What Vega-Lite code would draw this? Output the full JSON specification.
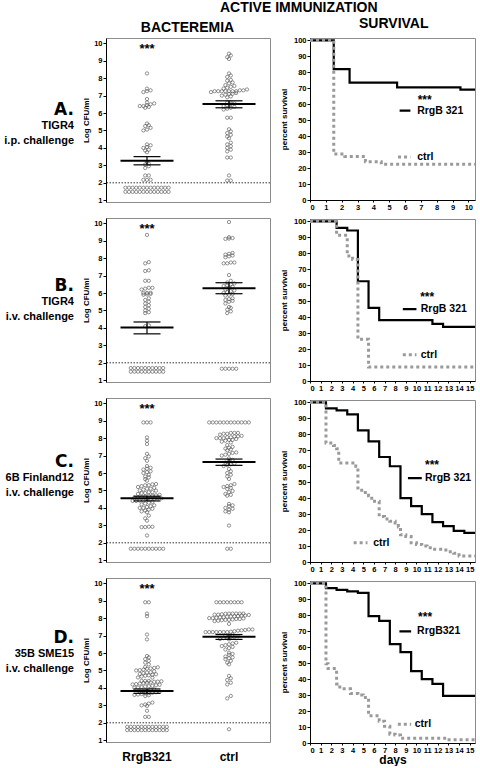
{
 "$schema": "https://vega.github.io/schema/vega-lite/v6.json",
 "padding": {"left": 0, "top": 0, "right": 1, "bottom": 0},
 "title": {"text": "ACTIVE IMMUNIZATION", "anchor": "middle", "dx": 58, "offset": 2},
 "datasets": {
  "labs": [
   {"p": "A", "big": "A.", "small": ["TIGR4", "i.p. challenge"]},
   {"p": "B", "big": "B.", "small": ["TIGR4", "i.v. challenge"]},
   {"p": "C", "big": "C.", "small": ["6B Finland12", "i.v. challenge"]},
   {"p": "D", "big": "D.", "small": ["35B SME15", "i.v. challenge"]}
  ],
  "pts": [
   {"p": "A", "g": "RrgB321", "v": [1.72,1.72,1.72,1.72,1.72,1.72,1.72,1.72,1.72,1.72,1.72,1.72,1.72,1.48,1.48,1.48,1.48,1.48,1.48,1.48,1.48,1.48,1.48,1.48,1.48,1.48,2.17,2.17,2.17,2.42,2.42,2.85,2.95,3.05,3.1,3.2,3.75,3.85,3.9,4.0,4.05,4.15,4.2,5.0,5.05,5.15,5.25,5.3,5.4,6.3,6.35,6.4,6.4,6.45,6.5,6.55,6.6,6.8,7.2,7.25,7.3,7.4,8.27]},
   {"p": "A", "g": "ctrl", "v": [2.13,2.13,2.42,3.45,3.45,3.8,3.9,4.0,4.1,4.2,4.3,4.55,4.65,4.75,4.85,4.95,5.07,5.73,5.73,6.2,6.25,6.3,6.35,6.4,6.45,6.5,6.55,6.6,6.6,6.9,6.95,7.0,7.05,7.1,7.1,7.15,7.2,7.25,7.25,7.25,7.25,7.25,7.25,7.25,7.3,7.3,7.35,7.4,7.45,7.5,7.55,7.6,7.7,7.75,7.85,7.9,8.07,8.15,8.27,9.1,9.2,9.3,9.4]},
   {"p": "B", "g": "RrgB321", "v": [1.7,1.7,1.7,1.7,1.7,1.7,1.7,1.7,1.7,1.7,1.49,1.49,1.49,1.49,1.49,1.49,1.49,1.49,1.49,1.49,4.1,4.15,4.85,4.9,5.0,5.1,5.2,5.3,5.4,5.5,5.6,5.7,5.9,5.92,5.95,6.0,6.0,6.02,6.2,6.25,6.3,6.3,6.7,6.7,7.26,7.3,7.7,7.77,9.33]},
   {"p": "B", "g": "ctrl", "v": [1.66,1.66,1.66,1.66,1.66,4.85,4.95,5.05,5.15,5.2,5.4,5.5,5.55,5.6,5.65,5.7,5.85,5.9,5.95,6.0,6.05,6.1,6.15,6.2,6.3,6.35,6.4,6.45,6.5,6.55,6.6,6.7,7.03,7.7,7.7,7.75,7.75,8.05,8.1,8.15,8.2,8.25,8.3,9.1,9.12,9.15,9.2,10.07]},
   {"p": "C", "g": "RrgB321", "v": [1.66,1.66,1.66,1.66,1.66,1.66,1.66,1.66,1.66,1.66,2.42,2.9,2.9,2.92,2.92,3.27,3.4,3.56,3.75,3.8,3.85,3.9,3.95,4.0,4.0,4.05,4.1,4.15,4.2,4.25,4.3,4.35,4.4,4.4,4.42,4.42,4.5,4.5,4.52,4.55,4.55,4.6,4.6,4.62,4.65,4.7,4.7,4.72,4.75,4.8,4.85,4.85,4.9,4.9,4.99,5.0,5.05,5.1,5.1,5.15,5.2,5.25,5.3,5.3,5.35,5.37,5.56,5.65,5.75,5.8,5.9,6.0,6.05,6.1,6.2,6.25,6.3,6.4,6.7,6.85,6.95,7.1,7.66,7.85,8.04,8.9,8.9,8.9]},
   {"p": "C", "g": "ctrl", "v": [1.66,1.66,2.99,3.75,3.8,3.9,3.95,4.0,4.1,4.15,4.23,4.7,4.75,4.8,4.9,4.97,5.09,5.15,5.2,5.25,5.3,5.37,5.66,5.8,5.9,6.0,6.1,6.23,6.4,6.45,6.5,6.55,6.6,6.7,6.75,6.84,7.0,7.05,7.1,7.15,7.18,7.3,7.35,7.4,7.45,7.5,7.6,7.75,7.8,7.85,7.9,7.9,7.95,8.0,8.0,8.0,8.05,8.05,8.1,8.1,8.13,8.2,8.25,8.25,8.3,8.3,8.3,8.9,8.9,8.9,8.9,8.9,8.9,8.9,8.9,8.9,8.9,8.9,8.9]},
   {"p": "D", "g": "RrgB321", "v": [1.77,1.77,1.77,1.77,1.77,1.77,1.77,1.77,1.77,1.77,1.77,1.77,1.58,1.58,1.58,1.58,1.58,1.58,1.58,1.58,1.58,1.58,1.58,1.58,2.34,2.34,2.69,2.97,3.0,3.05,3.1,3.16,3.54,3.58,3.6,3.62,3.65,3.68,3.7,3.72,3.75,3.78,3.8,3.82,3.85,3.9,3.92,4.0,4.02,4.05,4.08,4.1,4.12,4.15,4.18,4.2,4.22,4.25,4.28,4.3,4.32,4.35,4.36,4.38,4.4,4.4,4.4,4.59,4.6,4.65,4.7,4.72,4.75,4.78,4.8,4.85,4.88,4.9,4.95,5.0,5.02,5.05,5.1,5.12,5.15,5.18,5.2,5.35,5.45,5.55,5.65,5.75,5.83,6.78,7.06,8.11,8.26,8.91,8.91]},
   {"p": "D", "g": "ctrl", "v": [1.63,3.4,3.54,4.2,4.3,4.45,4.55,4.69,5.35,5.45,5.55,5.65,5.7,5.75,5.8,5.9,5.95,6.02,6.2,6.28,6.35,6.4,6.45,6.5,6.55,6.59,6.78,6.8,6.85,6.88,6.9,6.92,6.95,7.0,7.02,7.06,7.2,7.2,7.2,7.2,7.2,7.2,7.2,7.22,7.25,7.28,7.3,7.32,7.35,7.35,7.67,7.83,7.85,7.88,7.9,7.9,7.92,7.95,7.95,7.98,8.0,8.0,8.02,8.05,8.05,8.08,8.1,8.1,8.12,8.15,8.15,8.18,8.2,8.2,8.22,8.25,8.26,8.26,8.26,8.26,8.26,8.91,8.91,8.91,8.91,8.91,8.91,8.91,8.91]}
  ],
  "stats": [
   {"p": "A", "g": "RrgB321", "m": 3.27, "lo": 3.03, "hi": 3.5},
   {"p": "A", "g": "ctrl", "m": 6.51, "lo": 6.3, "hi": 6.7},
   {"p": "B", "g": "RrgB321", "m": 4.02, "lo": 3.66, "hi": 4.34},
   {"p": "B", "g": "ctrl", "m": 6.27, "lo": 5.96, "hi": 6.59},
   {"p": "C", "g": "RrgB321", "m": 4.55, "lo": 4.4, "hi": 4.67},
   {"p": "C", "g": "ctrl", "m": 6.63, "lo": 6.44, "hi": 6.8},
   {"p": "D", "g": "RrgB321", "m": 3.83, "lo": 3.69, "hi": 3.94},
   {"p": "D", "g": "ctrl", "m": 6.93, "lo": 6.78, "hi": 7.06}
  ],
  "surv": [
   {"p":"A","g":"RrgB","d":0,"s":100},{"p":"A","g":"RrgB","d":1.5,"s":82},{"p":"A","g":"RrgB","d":2.5,"s":73.5},{"p":"A","g":"RrgB","d":5.5,"s":70.6},{"p":"A","g":"RrgB","d":9.5,"s":69.2},{"p":"A","g":"RrgB","d":10.42,"s":69.2},
   {"p":"A","g":"ctrl","d":0,"s":100},{"p":"A","g":"ctrl","d":1.5,"s":28.8},{"p":"A","g":"ctrl","d":2.2,"s":27.2},{"p":"A","g":"ctrl","d":3.5,"s":24},{"p":"A","g":"ctrl","d":4.5,"s":22.4},{"p":"A","g":"ctrl","d":10.42,"s":22.4},
   {"p":"B","g":"RrgB","d":0,"s":100},{"p":"B","g":"RrgB","d":2.5,"s":96},{"p":"B","g":"RrgB","d":3.5,"s":94.3},{"p":"B","g":"RrgB","d":4.5,"s":62.5},{"p":"B","g":"RrgB","d":5.5,"s":45.8},{"p":"B","g":"RrgB","d":6.5,"s":38.1},{"p":"B","g":"RrgB","d":11.5,"s":35.8},{"p":"B","g":"RrgB","d":12.5,"s":33.9},{"p":"B","g":"RrgB","d":15.5,"s":33.9},
   {"p":"B","g":"ctrl","d":0,"s":100},{"p":"B","g":"ctrl","d":2.5,"s":91.3},{"p":"B","g":"ctrl","d":3.5,"s":78.3},{"p":"B","g":"ctrl","d":4,"s":76.1},{"p":"B","g":"ctrl","d":4.5,"s":26.1},{"p":"B","g":"ctrl","d":5.5,"s":8.7},{"p":"B","g":"ctrl","d":15.5,"s":8.7},
   {"p":"C","g":"RrgB","d":0,"s":100},{"p":"C","g":"RrgB","d":1.5,"s":96.2},{"p":"C","g":"RrgB","d":2.5,"s":95},{"p":"C","g":"RrgB","d":3.5,"s":92.5},{"p":"C","g":"RrgB","d":4.5,"s":82.5},{"p":"C","g":"RrgB","d":5.5,"s":75.6},{"p":"C","g":"RrgB","d":6.5,"s":65.8},{"p":"C","g":"RrgB","d":7.5,"s":60},{"p":"C","g":"RrgB","d":8.5,"s":40},{"p":"C","g":"RrgB","d":9.5,"s":35},{"p":"C","g":"RrgB","d":10.5,"s":30},{"p":"C","g":"RrgB","d":11.5,"s":25},{"p":"C","g":"RrgB","d":12.5,"s":22.5},{"p":"C","g":"RrgB","d":13.5,"s":19.5},{"p":"C","g":"RrgB","d":14.5,"s":18.3},{"p":"C","g":"RrgB","d":15.5,"s":18.3},
   {"p":"C","g":"ctrl","d":0,"s":100},{"p":"C","g":"ctrl","d":1.5,"s":74.5},{"p":"C","g":"ctrl","d":2.2,"s":73},{"p":"C","g":"ctrl","d":2.5,"s":71},{"p":"C","g":"ctrl","d":2.7,"s":62},{"p":"C","g":"ctrl","d":4.3,"s":60},{"p":"C","g":"ctrl","d":4.5,"s":45},{"p":"C","g":"ctrl","d":5,"s":43.5},{"p":"C","g":"ctrl","d":5.5,"s":41.5},{"p":"C","g":"ctrl","d":5.8,"s":38},{"p":"C","g":"ctrl","d":6.5,"s":28.5},{"p":"C","g":"ctrl","d":7,"s":27},{"p":"C","g":"ctrl","d":7.5,"s":25.5},{"p":"C","g":"ctrl","d":8,"s":24.5},{"p":"C","g":"ctrl","d":8.3,"s":22},{"p":"C","g":"ctrl","d":8.5,"s":17},{"p":"C","g":"ctrl","d":9,"s":16},{"p":"C","g":"ctrl","d":9.5,"s":12},{"p":"C","g":"ctrl","d":10,"s":11},{"p":"C","g":"ctrl","d":10.5,"s":10},{"p":"C","g":"ctrl","d":11,"s":9},{"p":"C","g":"ctrl","d":11.5,"s":8},{"p":"C","g":"ctrl","d":12.5,"s":7.5},{"p":"C","g":"ctrl","d":13,"s":6.5},{"p":"C","g":"ctrl","d":13.5,"s":5.5},{"p":"C","g":"ctrl","d":14,"s":3.7},{"p":"C","g":"ctrl","d":15.5,"s":3.7},
   {"p":"D","g":"RrgB","d":0,"s":100},{"p":"D","g":"RrgB","d":1.5,"s":97},{"p":"D","g":"RrgB","d":2.5,"s":96},{"p":"D","g":"RrgB","d":3.5,"s":95},{"p":"D","g":"RrgB","d":4.5,"s":94},{"p":"D","g":"RrgB","d":5.5,"s":79.5},{"p":"D","g":"RrgB","d":6.5,"s":76.5},{"p":"D","g":"RrgB","d":7.5,"s":62},{"p":"D","g":"RrgB","d":8.5,"s":57},{"p":"D","g":"RrgB","d":9.5,"s":45},{"p":"D","g":"RrgB","d":10.5,"s":40},{"p":"D","g":"RrgB","d":11.5,"s":37},{"p":"D","g":"RrgB","d":12.5,"s":29.5},{"p":"D","g":"RrgB","d":15.5,"s":29.5},
   {"p":"D","g":"ctrl","d":0,"s":100},{"p":"D","g":"ctrl","d":1.5,"s":49.6},{"p":"D","g":"ctrl","d":1.7,"s":46.6},{"p":"D","g":"ctrl","d":2.5,"s":37},{"p":"D","g":"ctrl","d":2.8,"s":34},{"p":"D","g":"ctrl","d":3.8,"s":31},{"p":"D","g":"ctrl","d":4.5,"s":30},{"p":"D","g":"ctrl","d":5,"s":28.5},{"p":"D","g":"ctrl","d":5.5,"s":17},{"p":"D","g":"ctrl","d":6.5,"s":13.7},{"p":"D","g":"ctrl","d":7,"s":10.5},{"p":"D","g":"ctrl","d":7.5,"s":5.5},{"p":"D","g":"ctrl","d":8,"s":5},{"p":"D","g":"ctrl","d":8.5,"s":3},{"p":"D","g":"ctrl","d":12.8,"s":2},{"p":"D","g":"ctrl","d":15.5,"s":2}
  ],
  "notes": [
   {"p":"A","k":"star","t":"***","d":6.8,"s":64},{"p":"A","k":"lab","t":"RrgB 321","d":6.77,"s":56},{"p":"A","k":"lab","t":"ctrl","d":6.77,"s":27},
   {"p":"B","k":"star","t":"***","d":10.35,"s":54},{"p":"B","k":"lab","t":"RrgB 321","d":10.4,"s":45},{"p":"B","k":"lab","t":"ctrl","d":10.4,"s":16.5},
   {"p":"C","k":"star","t":"***","d":10.8,"s":62},{"p":"C","k":"lab","t":"RrgB 321","d":10.8,"s":52.6},{"p":"C","k":"lab","t":"ctrl","d":5.93,"s":12},
   {"p":"D","k":"star","t":"***","d":10.15,"s":80},{"p":"D","k":"lab","t":"RrgB321","d":10.06,"s":70},{"p":"D","k":"lab","t":"ctrl","d":9.84,"s":11.8}
  ],
  "keys": [
   {"p":"A","g":"RrgB","d1":5.66,"d2":6.34,"s":56},{"p":"A","g":"ctrl","d1":5.56,"d2":6.34,"s":27},
   {"p":"B","g":"RrgB","d1":8.72,"d2":10.0,"s":45},{"p":"B","g":"ctrl","d1":8.72,"d2":10.0,"s":16.5},
   {"p":"C","g":"RrgB","d1":9.2,"d2":10.5,"s":52.6},{"p":"C","g":"ctrl","d1":4.1,"d2":5.4,"s":12},
   {"p":"D","g":"RrgB","d1":8.4,"d2":9.5,"s":70},{"p":"D","g":"ctrl","d1":8.25,"d2":9.5,"s":11.8}
  ]
 },
 "spacing": 8,
 "hconcat": [
  {
   "title": {"text": " "},
   "spacing": 12,
   "vconcat": [
    {"width": 74, "height": 164, "view": {"stroke": null}, "data": {"name": "labs"}, "transform": [{"filter": "datum.p=='A'"}],
     "layer": [
      {"mark": {"type": "text", "align": "right", "baseline": "alphabetic", "font": "DejaVu Sans", "fontSize": 17, "fontWeight": "bold", "dy": -5}, "encoding": {"x": {"datum": 1, "type": "quantitative", "scale": {"domain": [0, 1]}, "axis": null}, "text": {"field": "big"}}},
      {"mark": {"type": "text", "align": "right", "baseline": "alphabetic", "fontSize": 11, "fontWeight": "bold", "dy": 9, "lineHeight": 15}, "encoding": {"x": {"datum": 1, "type": "quantitative", "scale": {"domain": [0, 1]}, "axis": null}, "text": {"field": "small"}}}
     ]},
    {"width": 74, "height": 164, "view": {"stroke": null}, "data": {"name": "labs"}, "transform": [{"filter": "datum.p=='B'"}],
     "layer": [
      {"mark": {"type": "text", "align": "right", "baseline": "alphabetic", "font": "DejaVu Sans", "fontSize": 17, "fontWeight": "bold", "dy": -5}, "encoding": {"x": {"datum": 1, "type": "quantitative", "scale": {"domain": [0, 1]}, "axis": null}, "text": {"field": "big"}}},
      {"mark": {"type": "text", "align": "right", "baseline": "alphabetic", "fontSize": 11, "fontWeight": "bold", "dy": 9, "lineHeight": 15}, "encoding": {"x": {"datum": 1, "type": "quantitative", "scale": {"domain": [0, 1]}, "axis": null}, "text": {"field": "small"}}}
     ]},
    {"width": 74, "height": 164, "view": {"stroke": null}, "data": {"name": "labs"}, "transform": [{"filter": "datum.p=='C'"}],
     "layer": [
      {"mark": {"type": "text", "align": "right", "baseline": "alphabetic", "font": "DejaVu Sans", "fontSize": 17, "fontWeight": "bold", "dy": -5}, "encoding": {"x": {"datum": 1, "type": "quantitative", "scale": {"domain": [0, 1]}, "axis": null}, "text": {"field": "big"}}},
      {"mark": {"type": "text", "align": "right", "baseline": "alphabetic", "fontSize": 11, "fontWeight": "bold", "dy": 9, "lineHeight": 15}, "encoding": {"x": {"datum": 1, "type": "quantitative", "scale": {"domain": [0, 1]}, "axis": null}, "text": {"field": "small"}}}
     ]},
    {"width": 74, "height": 164, "view": {"stroke": null}, "data": {"name": "labs"}, "transform": [{"filter": "datum.p=='D'"}],
     "layer": [
      {"mark": {"type": "text", "align": "right", "baseline": "alphabetic", "font": "DejaVu Sans", "fontSize": 17, "fontWeight": "bold", "dy": -5}, "encoding": {"x": {"datum": 1, "type": "quantitative", "scale": {"domain": [0, 1]}, "axis": null}, "text": {"field": "big"}}},
      {"mark": {"type": "text", "align": "right", "baseline": "alphabetic", "fontSize": 11, "fontWeight": "bold", "dy": 9, "lineHeight": 15}, "encoding": {"x": {"datum": 1, "type": "quantitative", "scale": {"domain": [0, 1]}, "axis": null}, "text": {"field": "small"}}}
     ]}
   ]
  },
  {
   "title": {"text": "BACTEREMIA", "anchor": "middle", "dx": 11},
   "spacing": 12,
   "vconcat": [
    {"width": 164, "height": 164, "layer": [
     {"data": {"name": "pts"}, "transform": [{"filter": "datum.p=='A'"}, {"flatten": ["v"]}, {"calculate": "floor(datum.v*5+0.000001)", "as": "b"}, {"window": [{"op": "row_number", "as": "r"}], "groupby": ["g", "b"]}, {"joinaggregate": [{"op": "count", "as": "n"}], "groupby": ["g", "b"]}, {"calculate": "(datum.r-(datum.n+1)/2)*3.6", "as": "off"}],
      "mark": {"type": "point", "shape": "circle", "size": 11, "filled": false, "stroke": "#4d4d4d", "strokeWidth": 0.6, "opacity": 1},
      "encoding": {"x": {"field": "g", "type": "nominal", "scale": {"type": "band", "domain": ["RrgB321", "ctrl"], "paddingInner": 0, "paddingOuter": 0}, "axis": null}, "xOffset": {"field": "off", "type": "quantitative", "scale": {"domain": [-41, 41]}}, "y": {"field": "v", "type": "quantitative", "scale": {"domain": [0.9, 10.3], "nice": false, "zero": false}, "axis": {"values": [1,2,3,4,5,6,7,8,9,10], "tickCount": 40, "format": "d", "title": "Log CFU/ml"}}}},
     {"data": {"values": [{"lim": 2}]}, "mark": {"type": "rule", "strokeDash": [1.5, 1.5], "color": "#000", "strokeWidth": 0.8}, "encoding": {"y": {"field": "lim", "type": "quantitative"}}},
     {"data": {"name": "stats"}, "transform": [{"filter": "datum.p=='A'"}], "mark": {"type": "tick", "size": 53, "thickness": 2, "color": "#000", "opacity": 1}, "encoding": {"x": {"field": "g", "type": "nominal", "axis": null}, "y": {"field": "m", "type": "quantitative"}}},
     {"data": {"name": "stats"}, "transform": [{"filter": "datum.p=='A'"}], "mark": {"type": "tick", "size": 27, "thickness": 1.2, "color": "#000", "opacity": 1}, "encoding": {"x": {"field": "g", "type": "nominal", "axis": null}, "y": {"field": "lo", "type": "quantitative"}}},
     {"data": {"name": "stats"}, "transform": [{"filter": "datum.p=='A'"}], "mark": {"type": "tick", "size": 27, "thickness": 1.2, "color": "#000", "opacity": 1}, "encoding": {"x": {"field": "g", "type": "nominal", "axis": null}, "y": {"field": "hi", "type": "quantitative"}}},
     {"data": {"name": "stats"}, "transform": [{"filter": "datum.p=='A'"}], "mark": {"type": "rule", "strokeWidth": 1.2, "color": "#000"}, "encoding": {"x": {"field": "g", "type": "nominal", "axis": null}, "y": {"field": "lo", "type": "quantitative"}, "y2": {"field": "hi"}}},
     {"data": {"name": "stats"}, "transform": [{"filter": "datum.p=='A' && datum.g=='RrgB321'"}], "mark": {"type": "text", "text": "***", "fontSize": 13, "fontWeight": "bold", "baseline": "alphabetic", "dy": 7}, "encoding": {"x": {"field": "g", "type": "nominal", "axis": null}, "y": {"datum": 9.83, "type": "quantitative"}}}
    ]},
    {"width": 164, "height": 164, "layer": [
     {"data": {"name": "pts"}, "transform": [{"filter": "datum.p=='B'"}, {"flatten": ["v"]}, {"calculate": "floor(datum.v*5+0.000001)", "as": "b"}, {"window": [{"op": "row_number", "as": "r"}], "groupby": ["g", "b"]}, {"joinaggregate": [{"op": "count", "as": "n"}], "groupby": ["g", "b"]}, {"calculate": "(datum.r-(datum.n+1)/2)*3.6", "as": "off"}],
      "mark": {"type": "point", "shape": "circle", "size": 11, "filled": false, "stroke": "#4d4d4d", "strokeWidth": 0.6, "opacity": 1},
      "encoding": {"x": {"field": "g", "type": "nominal", "scale": {"type": "band", "domain": ["RrgB321", "ctrl"], "paddingInner": 0, "paddingOuter": 0}, "axis": null}, "xOffset": {"field": "off", "type": "quantitative", "scale": {"domain": [-41, 41]}}, "y": {"field": "v", "type": "quantitative", "scale": {"domain": [0.9, 10.3], "nice": false, "zero": false}, "axis": {"values": [1,2,3,4,5,6,7,8,9,10], "tickCount": 40, "format": "d", "title": "Log CFU/ml"}}}},
     {"data": {"values": [{"lim": 2}]}, "mark": {"type": "rule", "strokeDash": [1.5, 1.5], "color": "#000", "strokeWidth": 0.8}, "encoding": {"y": {"field": "lim", "type": "quantitative"}}},
     {"data": {"name": "stats"}, "transform": [{"filter": "datum.p=='B'"}], "mark": {"type": "tick", "size": 53, "thickness": 2, "color": "#000", "opacity": 1}, "encoding": {"x": {"field": "g", "type": "nominal", "axis": null}, "y": {"field": "m", "type": "quantitative"}}},
     {"data": {"name": "stats"}, "transform": [{"filter": "datum.p=='B'"}], "mark": {"type": "tick", "size": 27, "thickness": 1.2, "color": "#000", "opacity": 1}, "encoding": {"x": {"field": "g", "type": "nominal", "axis": null}, "y": {"field": "lo", "type": "quantitative"}}},
     {"data": {"name": "stats"}, "transform": [{"filter": "datum.p=='B'"}], "mark": {"type": "tick", "size": 27, "thickness": 1.2, "color": "#000", "opacity": 1}, "encoding": {"x": {"field": "g", "type": "nominal", "axis": null}, "y": {"field": "hi", "type": "quantitative"}}},
     {"data": {"name": "stats"}, "transform": [{"filter": "datum.p=='B'"}], "mark": {"type": "rule", "strokeWidth": 1.2, "color": "#000"}, "encoding": {"x": {"field": "g", "type": "nominal", "axis": null}, "y": {"field": "lo", "type": "quantitative"}, "y2": {"field": "hi"}}},
     {"data": {"name": "stats"}, "transform": [{"filter": "datum.p=='B' && datum.g=='RrgB321'"}], "mark": {"type": "text", "text": "***", "fontSize": 13, "fontWeight": "bold", "baseline": "alphabetic", "dy": 7}, "encoding": {"x": {"field": "g", "type": "nominal", "axis": null}, "y": {"datum": 9.83, "type": "quantitative"}}}
    ]},
    {"width": 164, "height": 164, "layer": [
     {"data": {"name": "pts"}, "transform": [{"filter": "datum.p=='C'"}, {"flatten": ["v"]}, {"calculate": "floor(datum.v*5+0.000001)", "as": "b"}, {"window": [{"op": "row_number", "as": "r"}], "groupby": ["g", "b"]}, {"joinaggregate": [{"op": "count", "as": "n"}], "groupby": ["g", "b"]}, {"calculate": "(datum.r-(datum.n+1)/2)*3.6", "as": "off"}],
      "mark": {"type": "point", "shape": "circle", "size": 11, "filled": false, "stroke": "#4d4d4d", "strokeWidth": 0.6, "opacity": 1},
      "encoding": {"x": {"field": "g", "type": "nominal", "scale": {"type": "band", "domain": ["RrgB321", "ctrl"], "paddingInner": 0, "paddingOuter": 0}, "axis": null}, "xOffset": {"field": "off", "type": "quantitative", "scale": {"domain": [-41, 41]}}, "y": {"field": "v", "type": "quantitative", "scale": {"domain": [0.9, 10.3], "nice": false, "zero": false}, "axis": {"values": [1,2,3,4,5,6,7,8,9,10], "tickCount": 40, "format": "d", "title": "Log CFU/ml"}}}},
     {"data": {"values": [{"lim": 2}]}, "mark": {"type": "rule", "strokeDash": [1.5, 1.5], "color": "#000", "strokeWidth": 0.8}, "encoding": {"y": {"field": "lim", "type": "quantitative"}}},
     {"data": {"name": "stats"}, "transform": [{"filter": "datum.p=='C'"}], "mark": {"type": "tick", "size": 53, "thickness": 2, "color": "#000", "opacity": 1}, "encoding": {"x": {"field": "g", "type": "nominal", "axis": null}, "y": {"field": "m", "type": "quantitative"}}},
     {"data": {"name": "stats"}, "transform": [{"filter": "datum.p=='C'"}], "mark": {"type": "tick", "size": 27, "thickness": 1.2, "color": "#000", "opacity": 1}, "encoding": {"x": {"field": "g", "type": "nominal", "axis": null}, "y": {"field": "lo", "type": "quantitative"}}},
     {"data": {"name": "stats"}, "transform": [{"filter": "datum.p=='C'"}], "mark": {"type": "tick", "size": 27, "thickness": 1.2, "color": "#000", "opacity": 1}, "encoding": {"x": {"field": "g", "type": "nominal", "axis": null}, "y": {"field": "hi", "type": "quantitative"}}},
     {"data": {"name": "stats"}, "transform": [{"filter": "datum.p=='C'"}], "mark": {"type": "rule", "strokeWidth": 1.2, "color": "#000"}, "encoding": {"x": {"field": "g", "type": "nominal", "axis": null}, "y": {"field": "lo", "type": "quantitative"}, "y2": {"field": "hi"}}},
     {"data": {"name": "stats"}, "transform": [{"filter": "datum.p=='C' && datum.g=='RrgB321'"}], "mark": {"type": "text", "text": "***", "fontSize": 13, "fontWeight": "bold", "baseline": "alphabetic", "dy": 7}, "encoding": {"x": {"field": "g", "type": "nominal", "axis": null}, "y": {"datum": 9.83, "type": "quantitative"}}}
    ]},
    {"width": 164, "height": 164, "layer": [
     {"data": {"name": "pts"}, "transform": [{"filter": "datum.p=='D'"}, {"flatten": ["v"]}, {"calculate": "floor(datum.v*5+0.000001)", "as": "b"}, {"window": [{"op": "row_number", "as": "r"}], "groupby": ["g", "b"]}, {"joinaggregate": [{"op": "count", "as": "n"}], "groupby": ["g", "b"]}, {"calculate": "(datum.r-(datum.n+1)/2)*3.6", "as": "off"}],
      "mark": {"type": "point", "shape": "circle", "size": 11, "filled": false, "stroke": "#4d4d4d", "strokeWidth": 0.6, "opacity": 1},
      "encoding": {"x": {"field": "g", "type": "nominal", "scale": {"type": "band", "domain": ["RrgB321", "ctrl"], "paddingInner": 0, "paddingOuter": 0}, "axis": {"title": null, "labelAngle": 0, "ticks": false, "domain": false, "labelFontSize": 12, "labelPadding": 9}}, "xOffset": {"field": "off", "type": "quantitative", "scale": {"domain": [-41, 41]}}, "y": {"field": "v", "type": "quantitative", "scale": {"domain": [0.9, 10.3], "nice": false, "zero": false}, "axis": {"values": [1,2,3,4,5,6,7,8,9,10], "tickCount": 40, "format": "d", "title": "Log CFU/ml"}}}},
     {"data": {"values": [{"lim": 2}]}, "mark": {"type": "rule", "strokeDash": [1.5, 1.5], "color": "#000", "strokeWidth": 0.8}, "encoding": {"y": {"field": "lim", "type": "quantitative"}}},
     {"data": {"name": "stats"}, "transform": [{"filter": "datum.p=='D'"}], "mark": {"type": "tick", "size": 53, "thickness": 2, "color": "#000", "opacity": 1}, "encoding": {"x": {"field": "g", "type": "nominal"}, "y": {"field": "m", "type": "quantitative"}}},
     {"data": {"name": "stats"}, "transform": [{"filter": "datum.p=='D'"}], "mark": {"type": "tick", "size": 27, "thickness": 1.2, "color": "#000", "opacity": 1}, "encoding": {"x": {"field": "g", "type": "nominal"}, "y": {"field": "lo", "type": "quantitative"}}},
     {"data": {"name": "stats"}, "transform": [{"filter": "datum.p=='D'"}], "mark": {"type": "tick", "size": 27, "thickness": 1.2, "color": "#000", "opacity": 1}, "encoding": {"x": {"field": "g", "type": "nominal"}, "y": {"field": "hi", "type": "quantitative"}}},
     {"data": {"name": "stats"}, "transform": [{"filter": "datum.p=='D'"}], "mark": {"type": "rule", "strokeWidth": 1.2, "color": "#000"}, "encoding": {"x": {"field": "g", "type": "nominal"}, "y": {"field": "lo", "type": "quantitative"}, "y2": {"field": "hi"}}},
     {"data": {"name": "stats"}, "transform": [{"filter": "datum.p=='D' && datum.g=='RrgB321'"}], "mark": {"type": "text", "text": "***", "fontSize": 13, "fontWeight": "bold", "baseline": "alphabetic", "dy": 7}, "encoding": {"x": {"field": "g", "type": "nominal"}, "y": {"datum": 9.83, "type": "quantitative"}}}
    ]}
   ]
  },
  {
   "title": {"text": "SURVIVAL", "anchor": "middle", "dx": 13},
   "spacing": 3,
   "vconcat": [
    {"width": 165, "height": 162, "layer": [
     {"data": {"name": "surv"}, "transform": [{"filter": "datum.p=='A'"}], "mark": {"type": "line", "interpolate": "step-after"},
      "encoding": {"x": {"field": "d", "type": "quantitative", "scale": {"domain": [0, 10.42], "nice": false}, "axis": {"values": [0,1,2,3,4,5,6,7,8,9,10], "tickCount": 40, "format": "d", "title": null}},
       "y": {"field": "s", "type": "quantitative", "scale": {"domain": [0, 101.5], "nice": false}, "axis": {"values": [0,10,20,30,40,50,60,70,80,90,100], "tickCount": 40, "format": "d", "titlePadding": 5, "title": "percent survival"}},
       "color": {"field": "g", "type": "nominal", "scale": {"domain": ["RrgB", "ctrl"], "range": ["#000000", "#9a9a9a"]}, "legend": null},
       "strokeDash": {"field": "g", "type": "nominal", "scale": {"domain": ["RrgB", "ctrl"], "range": [[1, 0], [3, 3]]}, "legend": null},
       "strokeWidth": {"field": "g", "type": "nominal", "scale": {"domain": ["RrgB", "ctrl"], "range": [2.2, 3]}, "legend": null}}},
     {"data": {"name": "keys"}, "transform": [{"filter": "datum.p=='A'"}], "mark": {"type": "rule"},
      "encoding": {"x": {"field": "d1", "type": "quantitative"}, "x2": {"field": "d2"}, "y": {"field": "s", "type": "quantitative"},
       "color": {"field": "g", "type": "nominal", "legend": null}, "strokeDash": {"field": "g", "type": "nominal", "legend": null}, "strokeWidth": {"field": "g", "type": "nominal", "legend": null}}},
     {"data": {"name": "notes"}, "transform": [{"filter": "datum.p=='A' && datum.k=='lab'"}], "mark": {"type": "text", "align": "left", "baseline": "middle", "fontSize": 10.5, "fontWeight": "bold"},
      "encoding": {"x": {"field": "d", "type": "quantitative"}, "y": {"field": "s", "type": "quantitative"}, "text": {"field": "t"}}},
     {"data": {"name": "notes"}, "transform": [{"filter": "datum.p=='A' && datum.k=='star'"}], "mark": {"type": "text", "align": "left", "baseline": "alphabetic", "dy": 6, "fontSize": 12, "fontWeight": "bold"},
      "encoding": {"x": {"field": "d", "type": "quantitative"}, "y": {"field": "s", "type": "quantitative"}, "text": {"field": "t"}}}
    ]},
    {"width": 165, "height": 162, "layer": [
     {"data": {"name": "surv"}, "transform": [{"filter": "datum.p=='B'"}], "mark": {"type": "line", "interpolate": "step-after"},
      "encoding": {"x": {"field": "d", "type": "quantitative", "scale": {"domain": [0, 15.5], "nice": false}, "axis": {"values": [0,1,2,3,4,5,6,7,8,9,10,11,12,13,14,15], "tickCount": 40, "format": "d", "title": null}},
       "y": {"field": "s", "type": "quantitative", "scale": {"domain": [0, 101.5], "nice": false}, "axis": {"values": [0,10,20,30,40,50,60,70,80,90,100], "tickCount": 40, "format": "d", "titlePadding": 5, "title": "percent survival"}},
       "color": {"field": "g", "type": "nominal", "scale": {"domain": ["RrgB", "ctrl"], "range": ["#000000", "#9a9a9a"]}, "legend": null},
       "strokeDash": {"field": "g", "type": "nominal", "scale": {"domain": ["RrgB", "ctrl"], "range": [[1, 0], [3, 3]]}, "legend": null},
       "strokeWidth": {"field": "g", "type": "nominal", "scale": {"domain": ["RrgB", "ctrl"], "range": [2.2, 3]}, "legend": null}}},
     {"data": {"name": "keys"}, "transform": [{"filter": "datum.p=='B'"}], "mark": {"type": "rule"},
      "encoding": {"x": {"field": "d1", "type": "quantitative"}, "x2": {"field": "d2"}, "y": {"field": "s", "type": "quantitative"},
       "color": {"field": "g", "type": "nominal", "legend": null}, "strokeDash": {"field": "g", "type": "nominal", "legend": null}, "strokeWidth": {"field": "g", "type": "nominal", "legend": null}}},
     {"data": {"name": "notes"}, "transform": [{"filter": "datum.p=='B' && datum.k=='lab'"}], "mark": {"type": "text", "align": "left", "baseline": "middle", "fontSize": 10.5, "fontWeight": "bold"},
      "encoding": {"x": {"field": "d", "type": "quantitative"}, "y": {"field": "s", "type": "quantitative"}, "text": {"field": "t"}}},
     {"data": {"name": "notes"}, "transform": [{"filter": "datum.p=='B' && datum.k=='star'"}], "mark": {"type": "text", "align": "left", "baseline": "alphabetic", "dy": 6, "fontSize": 12, "fontWeight": "bold"},
      "encoding": {"x": {"field": "d", "type": "quantitative"}, "y": {"field": "s", "type": "quantitative"}, "text": {"field": "t"}}}
    ]},
    {"width": 165, "height": 162, "layer": [
     {"data": {"name": "surv"}, "transform": [{"filter": "datum.p=='C'"}], "mark": {"type": "line", "interpolate": "step-after"},
      "encoding": {"x": {"field": "d", "type": "quantitative", "scale": {"domain": [0, 15.5], "nice": false}, "axis": {"values": [0,1,2,3,4,5,6,7,8,9,10,11,12,13,14,15], "tickCount": 40, "format": "d", "title": null}},
       "y": {"field": "s", "type": "quantitative", "scale": {"domain": [0, 101.5], "nice": false}, "axis": {"values": [0,10,20,30,40,50,60,70,80,90,100], "tickCount": 40, "format": "d", "titlePadding": 5, "title": "percent survival"}},
       "color": {"field": "g", "type": "nominal", "scale": {"domain": ["RrgB", "ctrl"], "range": ["#000000", "#9a9a9a"]}, "legend": null},
       "strokeDash": {"field": "g", "type": "nominal", "scale": {"domain": ["RrgB", "ctrl"], "range": [[1, 0], [3, 3]]}, "legend": null},
       "strokeWidth": {"field": "g", "type": "nominal", "scale": {"domain": ["RrgB", "ctrl"], "range": [2.2, 3]}, "legend": null}}},
     {"data": {"name": "keys"}, "transform": [{"filter": "datum.p=='C'"}], "mark": {"type": "rule"},
      "encoding": {"x": {"field": "d1", "type": "quantitative"}, "x2": {"field": "d2"}, "y": {"field": "s", "type": "quantitative"},
       "color": {"field": "g", "type": "nominal", "legend": null}, "strokeDash": {"field": "g", "type": "nominal", "legend": null}, "strokeWidth": {"field": "g", "type": "nominal", "legend": null}}},
     {"data": {"name": "notes"}, "transform": [{"filter": "datum.p=='C' && datum.k=='lab'"}], "mark": {"type": "text", "align": "left", "baseline": "middle", "fontSize": 10.5, "fontWeight": "bold"},
      "encoding": {"x": {"field": "d", "type": "quantitative"}, "y": {"field": "s", "type": "quantitative"}, "text": {"field": "t"}}},
     {"data": {"name": "notes"}, "transform": [{"filter": "datum.p=='C' && datum.k=='star'"}], "mark": {"type": "text", "align": "left", "baseline": "alphabetic", "dy": 6, "fontSize": 12, "fontWeight": "bold"},
      "encoding": {"x": {"field": "d", "type": "quantitative"}, "y": {"field": "s", "type": "quantitative"}, "text": {"field": "t"}}}
    ]},
    {"width": 165, "height": 162, "layer": [
     {"data": {"name": "surv"}, "transform": [{"filter": "datum.p=='D'"}], "mark": {"type": "line", "interpolate": "step-after"},
      "encoding": {"x": {"field": "d", "type": "quantitative", "scale": {"domain": [0, 15.5], "nice": false}, "axis": {"values": [0,1,2,3,4,5,6,7,8,9,10,11,12,13,14,15], "tickCount": 40, "format": "d", "title": "days", "titleFontSize": 12, "titlePadding": 1}},
       "y": {"field": "s", "type": "quantitative", "scale": {"domain": [0, 101.5], "nice": false}, "axis": {"values": [0,10,20,30,40,50,60,70,80,90,100], "tickCount": 40, "format": "d", "titlePadding": 5, "title": "percent survival"}},
       "color": {"field": "g", "type": "nominal", "scale": {"domain": ["RrgB", "ctrl"], "range": ["#000000", "#9a9a9a"]}, "legend": null},
       "strokeDash": {"field": "g", "type": "nominal", "scale": {"domain": ["RrgB", "ctrl"], "range": [[1, 0], [3, 3]]}, "legend": null},
       "strokeWidth": {"field": "g", "type": "nominal", "scale": {"domain": ["RrgB", "ctrl"], "range": [2.2, 3]}, "legend": null}}},
     {"data": {"name": "keys"}, "transform": [{"filter": "datum.p=='D'"}], "mark": {"type": "rule"},
      "encoding": {"x": {"field": "d1", "type": "quantitative"}, "x2": {"field": "d2"}, "y": {"field": "s", "type": "quantitative"},
       "color": {"field": "g", "type": "nominal", "legend": null}, "strokeDash": {"field": "g", "type": "nominal", "legend": null}, "strokeWidth": {"field": "g", "type": "nominal", "legend": null}}},
     {"data": {"name": "notes"}, "transform": [{"filter": "datum.p=='D' && datum.k=='lab'"}], "mark": {"type": "text", "align": "left", "baseline": "middle", "fontSize": 10.5, "fontWeight": "bold"},
      "encoding": {"x": {"field": "d", "type": "quantitative"}, "y": {"field": "s", "type": "quantitative"}, "text": {"field": "t"}}},
     {"data": {"name": "notes"}, "transform": [{"filter": "datum.p=='D' && datum.k=='star'"}], "mark": {"type": "text", "align": "left", "baseline": "alphabetic", "dy": 6, "fontSize": 12, "fontWeight": "bold"},
      "encoding": {"x": {"field": "d", "type": "quantitative"}, "y": {"field": "s", "type": "quantitative"}, "text": {"field": "t"}}}
    ]}
   ]
  }
 ],
 "config": {
  "font": "Liberation Sans",
  "view": {"stroke": "#8c8c8c", "strokeWidth": 1},
  "axis": {"labelFont": "Liberation Sans", "labelFontWeight": "bold", "labelFontSize": 7.5, "labelColor": "#000", "labelOverlap": false, "tickColor": "#000", "domainColor": "#000", "tickSize": 3, "grid": false, "titleFont": "Liberation Sans", "titleFontWeight": "bold", "titleFontSize": 8, "titleColor": "#000", "labelPadding": 1, "titlePadding": 3},
  "axisX": {"tickSize": 2},
  "title": {"font": "Liberation Sans", "fontSize": 14, "fontWeight": "bold", "color": "#000", "offset": 3},
  "text": {"font": "Liberation Sans", "color": "#000"}
 }
}
